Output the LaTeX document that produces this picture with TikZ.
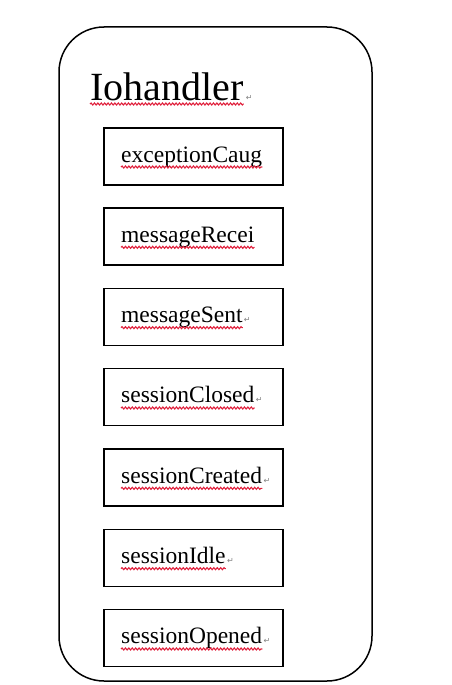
\documentclass[tikz,border=0pt]{standalone}
\usepackage{fontspec}
\setmainfont{Liberation Serif}
\newfontfamily\markfont{DejaVu Sans}
\usetikzlibrary{positioning,decorations.pathmorphing}
\definecolor{wavered}{HTML}{E0203C}

\begin{document}
\begin{tikzpicture}[
  x=1pt, y=-1pt,
  handler/.style={draw, line width=1.5pt, rounded corners=45pt, minimum width=313pt, minimum height=654pt},
  event/.style={draw, line width=1.5pt, minimum width=179pt, minimum height=57pt, anchor=north west},
  lbl/.style={inner sep=0pt, anchor=base west, font=\fontsize{23.5}{28}\selectfont},
  ret/.style={inner sep=0pt, anchor=base west, text=gray, font=\markfont\fontsize{8}{9}\selectfont},
  squiggle/.style={draw=wavered, line width=1.1pt, decorate, decoration={snake, amplitude=1pt, segment length=3.4pt}}
]
\useasboundingbox (0,0) rectangle (451,685);

% container
\node[handler] (box) at (215.5,354) {};
\node[lbl, font=\fontsize{40}{48}\selectfont] (title) at (90,100) {Iohandler};
\node[ret] (tret) at ([xshift=2pt]title.base east) {↵};
\draw[squiggle] ([yshift=-4pt]title.base west) -- ([yshift=-4pt]title.base east);

% callbacks
\foreach \i/\txt/\r in {1/exceptionCaug/0, 2/messageRecei/0, 3/messageSent/1,
    4/sessionClosed/1, 5/sessionCreated/1, 6/sessionIdle/1, 7/sessionOpened/1}{
  \pgfmathsetmacro{\ytop}{127+80.33*(\i-1)}
  \node[event] (e\i) at (103,\ytop) {};
  \node[lbl] (l\i) at ([xshift=18pt, yshift=-35pt]e\i.north west) {\txt};
  \draw[squiggle] ([yshift=-5pt]l\i.base west) -- ([yshift=-5pt]l\i.base east);
  \ifnum\r=1 \node[ret] (r\i) at ([xshift=1pt]l\i.base east) {↵}; \fi
}
\end{tikzpicture}
\end{document}
